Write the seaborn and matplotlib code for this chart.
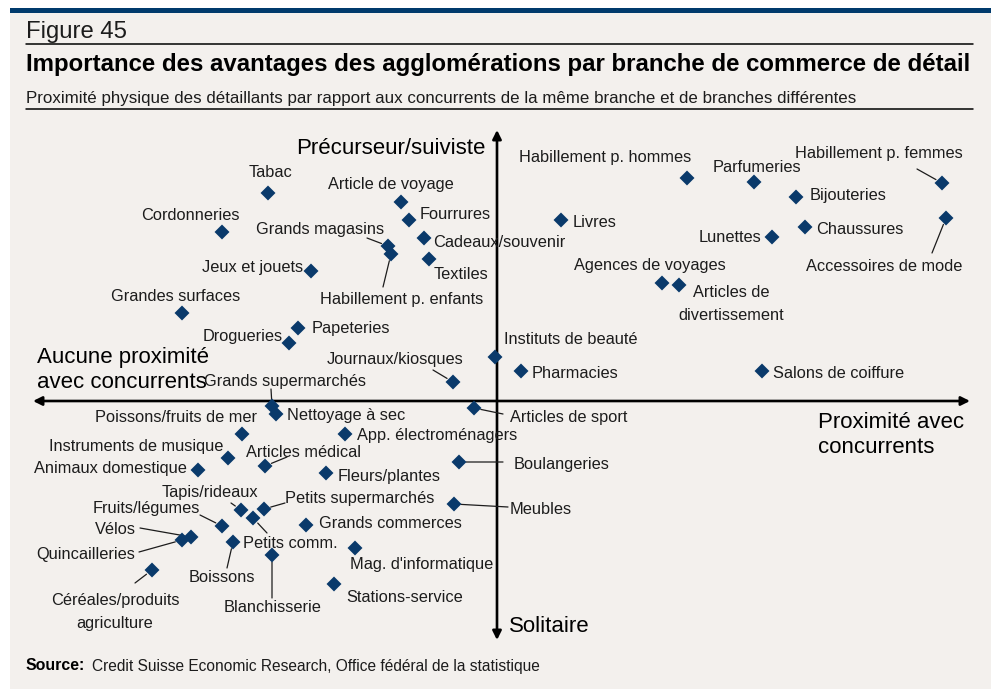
import matplotlib
matplotlib.use("Agg")
import matplotlib.pyplot as plt
import pandas as pd
import seaborn as sns

# ---- data -----------------------------------------------------------------
branches = [
    "Tabac", "Cordonneries", "Article de voyage", "Fourrures", "Cadeaux/souvenir",
    "Grands magasins", "Habillement p. enfants", "Textiles", "Jeux et jouets",
    "Grandes surfaces", "Papeteries", "Drogueries", "Journaux/kiosques",
    "Instituts de beauté", "Pharmacies", "Grands supermarchés", "Nettoyage à sec",
    "Poissons/fruits de mer", "Instruments de musique", "Animaux domestique",
    "Articles médical", "App. électroménagers", "Fleurs/plantes", "Articles de sport",
    "Boulangeries", "Meubles", "Tapis/rideaux", "Petits supermarchés", "Petits comm.",
    "Fruits/légumes", "Vélos", "Quincailleries", "Grands commerces", "Boissons",
    "Blanchisserie", "Mag. d'informatique", "Céréales/produits\nagriculture",
    "Stations-service", "Habillement p. hommes", "Parfumeries", "Bijouteries",
    "Habillement p. femmes", "Accessoires de mode", "Livres", "Chaussures", "Lunettes",
    "Agences de voyages", "Articles de\ndivertissement", "Salons de coiffure",
]
# proximity to competitors (horizontal axis)
proximite = [
    -4.58, -5.50, -1.92, -1.76, -1.46,
    -2.18, -2.12, -1.36, -3.72,
    -6.30, -3.98, -4.16, -0.88,
    -0.04, 0.48, -4.50, -4.42,
    -5.10, -5.38, -5.98,
    -4.64, -3.04, -3.42, -0.46,
    -0.76, -0.86, -5.12, -4.66, -4.88,
    -5.50, -6.12, -6.30, -3.82, -5.28,
    -4.50, -2.84, -6.90,
    -3.26, 3.80, 5.14, 5.98,
    8.90, 8.98, 1.28, 6.16, 5.50,
    3.30, 3.64, 5.30,
]
# leader/follower vs. solitary (vertical axis)
precurseur = [
    4.16, 3.38, 3.98, 3.62, 3.26,
    3.10, 2.94, 2.84, 2.60,
    1.76, 1.46, 1.16, 0.38,
    0.88, 0.60, -0.10, -0.26,
    -0.66, -1.14, -1.38,
    -1.30, -0.66, -1.44, -0.14,
    -1.22, -2.06, -2.18, -2.16, -2.34,
    -2.50, -2.72, -2.78, -2.48, -2.82,
    -3.08, -2.94, -3.38,
    -3.66, 4.46, 4.38, 4.08,
    4.36, 3.66, 3.62, 3.48, 3.28,
    2.36, 2.32, 0.60,
]

df = pd.DataFrame({"branche": branches, "x": proximite, "y": precurseur})

# ---- label placement: offset (px, y up), alignment, optional leader start --
label_layout = {
    "Tabac": (3, 22, "center", None),
    "Cordonneries": (-32, 18, "center", None),
    "Article de voyage": (-10, 19, "center", None),
    "Fourrures": (11, 7, "left", None),
    "Cadeaux/souvenir": (9, -3, "left", None),
    "Grands magasins": (-4, 18, "right", (-21, 8)),
    "Habillement p. enfants": (11, -44, "center", (-8, -33)),
    "Textiles": (5, -14, "left", None),
    "Jeux et jouets": (-8, 5, "right", None),
    "Grandes surfaces": (-6, 18, "center", None),
    "Papeteries": (14, 1, "left", None),
    "Drogueries": (-6, 8, "right", None),
    "Journaux/kiosques": (-58, 24, "center", (-20, 12)),
    "Instituts de beauté": (9, 19, "left", None),
    "Pharmacies": (11, -1, "left", None),
    "Grands supermarchés": (13, 26, "center", (-1, 17)),
    "Nettoyage à sec": (11, 0, "left", None),
    "Poissons/fruits de mer": (15, 18, "right", None),
    "Instruments de musique": (-5, 13, "right", None),
    "Animaux domestique": (-11, 3, "right", None),
    "Articles médical": (39, 15, "center", (22, 9)),
    "App. électroménagers": (12, 0, "left", None),
    "Fleurs/plantes": (12, -2, "left", None),
    "Articles de sport": (36, -8, "left", (29, -6)),
    "Boulangeries": (55, -1, "left", (44, 0)),
    "Meubles": (56, -3, "left", (54, -3)),
    "Tapis/rideaux": (-31, 20, "center", (-10, 7)),
    "Petits supermarchés": (21, 12, "left", (21, 6)),
    "Petits comm.": (-10, -24, "left", (14, -15)),
    "Fruits/légumes": (-22, 19, "right", (-22, 11)),
    "Vélos": (-55, 9, "right", (-51, 9)),
    "Quincailleries": (-47, -12, "right", (-43, -12)),
    "Grands commerces": (13, 3, "left", None),
    "Boissons": (-11, -34, "center", (-6, -26)),
    "Blanchisserie": (1, -51, "center", (0, -43)),
    "Mag. d'informatique": (-5, -15, "left", None),
    "Céréales/produits\nagriculture": (-37, -40, "center", (-17, -13)),
    "Stations-service": (12, -11, "left", None),
    "Habillement p. hommes": (-82, 22, "center", None),
    "Parfumeries": (3, 16, "center", None),
    "Bijouteries": (14, 3, "left", None),
    "Habillement p. femmes": (-63, 31, "center", (-25, 14)),
    "Accessoires de mode": (-62, -47, "center", (-14, -35)),
    "Livres": (12, -1, "left", None),
    "Chaussures": (11, -1, "left", None),
    "Lunettes": (-11, 1, "right", None),
    "Agences de voyages": (-12, 19, "center", None),
    "Articles de\ndivertissement": (52, -17, "center", None),
    "Salons de coiffure": (11, -1, "left", None),
}
TEXT_DROP = 2  # visual centring of the label glyphs

# ---- styling ---------------------------------------------------------------
sns.set_theme(style="white")
plt.rcParams["font.family"] = ["Liberation Sans", "DejaVu Sans"]

BG = "#f3f0ed"
NAVY = "#0a3a6b"
INK = "#1c1c1c"
W, H = 991, 689


def fx(px):
    return px / W


def fy(py):
    return 1 - py / H


fig = plt.figure(figsize=(W / 100, H / 100), dpi=100)
fig.patch.set_facecolor("white")

# panel background and top band
fig.add_artist(plt.Rectangle((fx(10), 0), 1 - fx(10), fy(8), transform=fig.transFigure,
                             facecolor=BG, edgecolor="none", zorder=0))
fig.add_artist(plt.Rectangle((fx(10), fy(13)), 1 - fx(10), fy(8) - fy(13),
                             transform=fig.transFigure, facecolor="#003a6c",
                             edgecolor="none", zorder=1))

# header texts and rules
fig.text(fx(26), fy(32), "Figure 45", fontsize=17.2, color=INK, va="center", ha="left")
fig.add_artist(plt.Line2D([fx(26), fx(973)], [fy(44), fy(44)], transform=fig.transFigure,
                          color="black", lw=1.1))
fig.text(fx(26), fy(64), "Importance des avantages des agglomérations par branche de commerce de détail",
         fontsize=17.3, fontweight="bold", color="black", va="center", ha="left")
fig.text(fx(26), fy(98), "Proximité physique des détaillants par rapport aux concurrents de la même branche et de branches différentes",
         fontsize=12.2, color=INK, va="center", ha="left")
fig.add_artist(plt.Line2D([fx(26), fx(973)], [fy(109), fy(109)], transform=fig.transFigure,
                          color="black", lw=1.1))

# source line
fig.text(fx(26), fy(666), "Source:", fontsize=11.4, fontweight="bold",
         color="black", va="center", ha="left")
fig.text(fx(92), fy(666), "Credit Suisse Economic Research, Office fédéral de la statistique",
         fontsize=11.2, color=INK, va="center", ha="left")

# ---- plot area -------------------------------------------------------------
ax = fig.add_axes([fx(33), fy(640), (970 - 33) / W, (640 - 130) / H])
ax.set_facecolor("none")
ax.set_xlim(-9.28, 9.46)
ax.set_ylim(-4.78, 5.42)
ax.axis("off")

arrow = dict(arrowstyle="<|-|>", color="black", lw=1.9, mutation_scale=13,
             shrinkA=0, shrinkB=0)
ax.annotate("", xy=(ax.get_xlim()[1], 0), xytext=(ax.get_xlim()[0], 0),
            arrowprops=arrow, annotation_clip=False, zorder=2)
ax.annotate("", xy=(0, ax.get_ylim()[1]), xytext=(0, ax.get_ylim()[0]),
            arrowprops=arrow, annotation_clip=False, zorder=2)

sns.scatterplot(data=df, x="x", y="y", marker="D", s=58, color=NAVY,
                edgecolor="none", linewidth=0, ax=ax, zorder=4, legend=False)
ax.set_xlabel("")
ax.set_ylabel("")

for name, xv, yv in zip(df["branche"], df["x"], df["y"]):
    dx, dy, ha, lead = label_layout[name]
    ax.annotate(name, xy=(xv, yv), xytext=(dx, dy - TEXT_DROP), textcoords="offset pixels",
                ha=ha, va="center", fontsize=11.8, color=INK, linespacing=1.65,
                zorder=5, annotation_clip=False)
    if lead is not None:
        ax.annotate("", xy=(xv, yv), xytext=lead, textcoords="offset pixels",
                    arrowprops=dict(arrowstyle="-", color=INK, lw=0.9,
                                    shrinkA=0, shrinkB=5),
                    annotation_clip=False, zorder=3)

# quadrant captions
fig.text(fx(485), fy(148), "Précurseur/suiviste", fontsize=16, color="black",
         ha="right", va="center")
fig.text(fx(37), fy(370), "Aucune proximité\navec concurrents", fontsize=16,
         color="black", ha="left", va="center", linespacing=1.3)
fig.text(fx(818), fy(435), "Proximité avec\nconcurrents", fontsize=16,
         color="black", ha="left", va="center", linespacing=1.3)
fig.text(fx(509), fy(626), "Solitaire", fontsize=16, color="black",
         ha="left", va="center")

fig.savefig("out.png", dpi=100, facecolor=fig.get_facecolor())
